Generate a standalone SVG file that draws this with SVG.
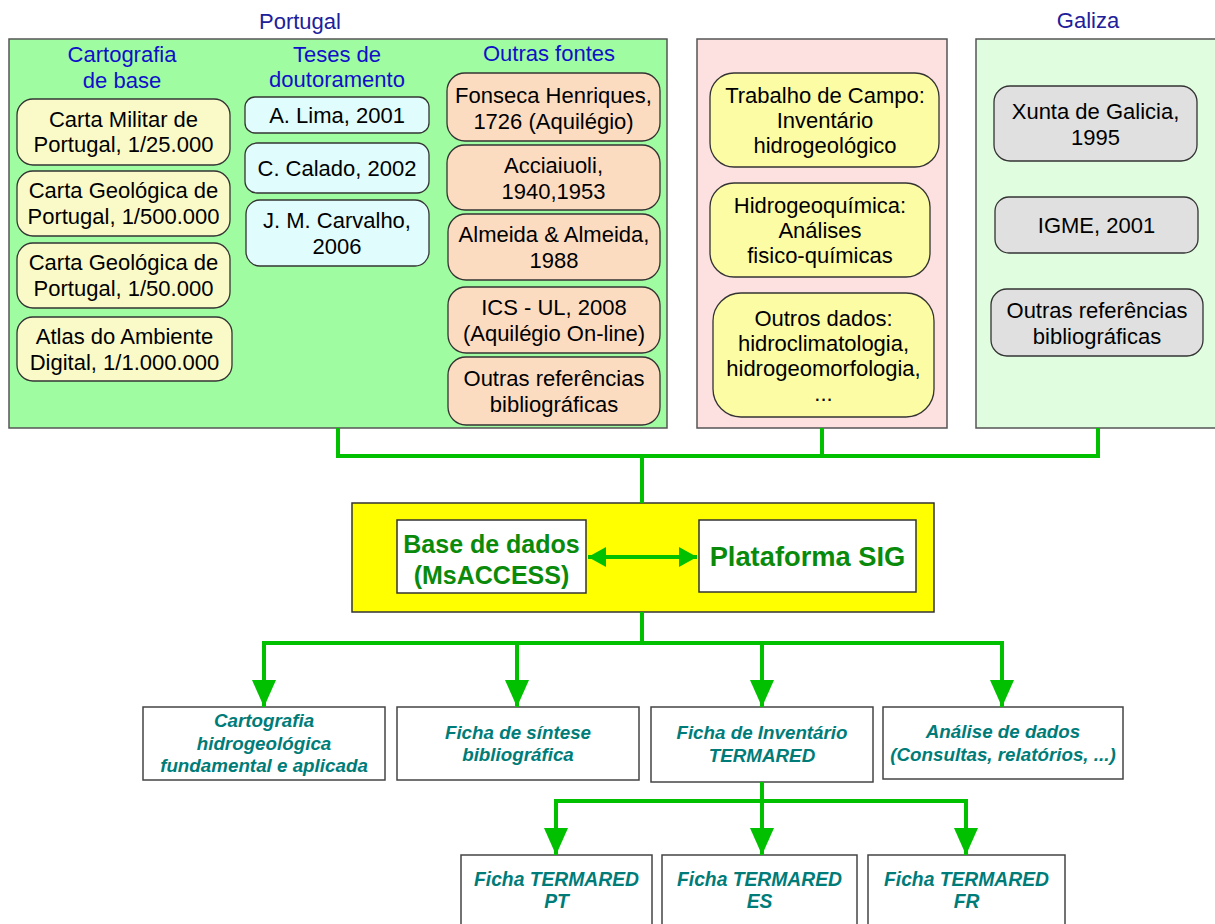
<svg xmlns="http://www.w3.org/2000/svg" width="1215" height="924" viewBox="0 0 1215 924">
  <defs>
    <marker id="arrowDown" markerUnits="userSpaceOnUse" viewBox="0 0 27 24" refX="27" refY="12" markerWidth="27" markerHeight="24" orient="auto">
      <path d="M0,0 L27,12 L0,24 z" fill="#00c000"/>
    </marker>
    <marker id="arrowSmall" markerUnits="userSpaceOnUse" viewBox="0 0 18 20" refX="18" refY="10" markerWidth="18" markerHeight="20" orient="auto-start-reverse">
      <path d="M0,0 L18,10 L0,20 z" fill="#00c000"/>
    </marker>
  </defs>
  <style>
    text { font-family: "Liberation Sans", Arial, sans-serif; text-anchor: middle; }
    .title { font-size: 22px; fill: #20209a; }
    .head { font-size: 22px; fill: #1010c8; }
    .src { font-size: 22px; fill: #000; }
    .panel { stroke: #555; stroke-width: 1.5; }
    .box { stroke: #333; stroke-width: 1.3; }
    .y1 { fill: #fafac8; }
    .cy { fill: #e0fcfc; }
    .or { fill: #fcdcc0; }
    .y2 { fill: #fcfca4; }
    .gr { fill: #e0e0e0; }
    .core { font-size: 25px; font-weight: bold; fill: #0a8a0a; }
    .out { fill: #fff; stroke: #444; stroke-width: 1.5; }
    .outt { font-size: 18.8px; font-weight: bold; font-style: italic; fill: #007c78; }
    .link { fill: none; stroke: #00c000; stroke-width: 4; }
  </style>

  <!-- panels -->
  <g id="panel-portugal">
    <text class="title" x="300" y="29">Portugal</text>
    <rect class="panel" x="9" y="39" width="658" height="389" fill="#a0fca0"/>
    <text class="head" x="122" y="62">Cartografia</text>
    <text class="head" x="122" y="88">de base</text>
    <text class="head" x="337" y="62">Teses de</text>
    <text class="head" x="337" y="87">doutoramento</text>
    <text class="head" x="549" y="61">Outras fontes</text>
  </g>
  <rect id="panel-campo" class="panel" x="697" y="39" width="250" height="389" fill="#fde0e0"/>
  <g id="panel-galiza">
    <text class="title" x="1088" y="28">Galiza</text>
    <rect class="panel" x="976" y="39" width="260" height="389" fill="#e0fde0"/>
  </g>

  <!-- Cartografia de base -->
  <g id="carta-militar"><rect class="box y1" x="17" y="99" width="213" height="66" rx="16"/>
    <text class="src" x="123.5" y="127">Carta Militar de</text><text class="src" x="123.5" y="152">Portugal, 1/25.000</text></g>
  <g id="carta-geo-500"><rect class="box y1" x="17" y="171" width="213" height="65" rx="16"/>
    <text class="src" x="123.5" y="198">Carta Geológica de</text><text class="src" x="123.5" y="224">Portugal, 1/500.000</text></g>
  <g id="carta-geo-50"><rect class="box y1" x="17" y="243" width="213" height="65" rx="16"/>
    <text class="src" x="123.5" y="270">Carta Geológica de</text><text class="src" x="123.5" y="296">Portugal, 1/50.000</text></g>
  <g id="atlas"><rect class="box y1" x="17" y="317" width="215" height="64" rx="16"/>
    <text class="src" x="124.5" y="344">Atlas do Ambiente</text><text class="src" x="124.5" y="370">Digital, 1/1.000.000</text></g>

  <!-- Teses de doutoramento -->
  <g id="lima"><rect class="box cy" x="245" y="97" width="184" height="36" rx="10"/>
    <text class="src" x="337" y="123">A. Lima, 2001</text></g>
  <g id="calado"><rect class="box cy" x="245" y="143" width="184" height="50" rx="12"/>
    <text class="src" x="337" y="176">C. Calado, 2002</text></g>
  <g id="carvalho"><rect class="box cy" x="246" y="200" width="183" height="66" rx="14"/>
    <text class="src" x="337" y="228">J. M. Carvalho,</text><text class="src" x="337" y="254">2006</text></g>

  <!-- Outras fontes -->
  <g id="fonseca"><rect class="box or" x="447" y="73" width="213" height="68" rx="18"/>
    <text class="src" x="553.5" y="103">Fonseca Henriques,</text><text class="src" x="553.5" y="129">1726 (Aquilégio)</text></g>
  <g id="acciaiuoli"><rect class="box or" x="447" y="145" width="213" height="65" rx="18"/>
    <text class="src" x="553.5" y="173">Acciaiuoli,</text><text class="src" x="553.5" y="199">1940,1953</text></g>
  <g id="almeida"><rect class="box or" x="448" y="214" width="212" height="66" rx="18"/>
    <text class="src" x="554" y="242">Almeida &amp; Almeida,</text><text class="src" x="554" y="268">1988</text></g>
  <g id="ics-ul"><rect class="box or" x="448" y="287" width="212" height="66" rx="18"/>
    <text class="src" x="554" y="315">ICS - UL, 2008</text><text class="src" x="554" y="341">(Aquilégio On-line)</text></g>
  <g id="outras-pt"><rect class="box or" x="448" y="357" width="212" height="68" rx="18"/>
    <text class="src" x="554" y="386">Outras referências</text><text class="src" x="554" y="412">bibliográficas</text></g>

  <!-- Trabalho de campo -->
  <g id="trabalho-campo"><rect class="box y2" x="710" y="73" width="229" height="94" rx="24"/>
    <text class="src" x="825" y="103">Trabalho de Campo:</text><text class="src" x="825" y="128">Inventário</text><text class="src" x="825" y="153">hidrogeológico</text></g>
  <g id="hidrogeoquimica"><rect class="box y2" x="710" y="183" width="220" height="94" rx="24"/>
    <text class="src" x="820" y="213">Hidrogeoquímica:</text><text class="src" x="820" y="238">Análises</text><text class="src" x="820" y="263">fisico-químicas</text></g>
  <g id="outros-dados"><rect class="box y2" x="713" y="293" width="221" height="124" rx="28"/>
    <text class="src" x="823.5" y="325.5">Outros dados:</text><text class="src" x="823.5" y="350.5">hidroclimatologia,</text><text class="src" x="823.5" y="375.5">hidrogeomorfologia,</text><text class="src" x="823.5" y="400.5">...</text></g>

  <!-- Galiza -->
  <g id="xunta"><rect class="box gr" x="994" y="86" width="203" height="75" rx="16"/>
    <text class="src" x="1095.5" y="118.5">Xunta de Galicia,</text><text class="src" x="1095.5" y="144.5">1995</text></g>
  <g id="igme"><rect class="box gr" x="995" y="197" width="203" height="56" rx="14"/>
    <text class="src" x="1096.5" y="233">IGME, 2001</text></g>
  <g id="outras-gz"><rect class="box gr" x="991" y="289" width="212" height="67" rx="16"/>
    <text class="src" x="1097" y="317.5">Outras referências</text><text class="src" x="1097" y="343.5">bibliográficas</text></g>

  <!-- core system -->
  <g id="sistema">
    <rect x="352" y="503" width="582" height="109" fill="#ffff00" stroke="#333" stroke-width="1.5"/>
  </g>
  <g id="base-dados"><rect x="397" y="520" width="189" height="73" fill="#fff" stroke="#333" stroke-width="1.5"/>
    <text class="core" x="491.5" y="553">Base de dados</text><text class="core" x="491.5" y="584">(MsACCESS)</text></g>
  <g id="plataforma-sig"><rect x="699" y="520" width="217" height="72" fill="#fff" stroke="#333" stroke-width="1.5"/>
    <text class="core" x="807.5" y="566" style="font-size:27.3px">Plataforma SIG</text></g>

  <!-- outputs -->
  <g id="out-cartografia"><rect class="out" x="143" y="707" width="242" height="73"/>
    <text class="outt" x="264" y="727">Cartografia</text><text class="outt" x="264" y="749.5">hidrogeológica</text><text class="outt" x="264" y="772">fundamental e aplicada</text></g>
  <g id="out-sintese"><rect class="out" x="397" y="707" width="242" height="73"/>
    <text class="outt" x="518" y="738.5">Ficha de síntese</text><text class="outt" x="518" y="761">bibliográfica</text></g>
  <g id="out-inventario"><rect class="out" x="651" y="707" width="222" height="75"/>
    <text class="outt" x="762" y="739">Ficha de Inventário</text><text class="outt" x="762" y="762">TERMARED</text></g>
  <g id="out-analise"><rect class="out" x="883" y="707" width="240" height="72"/>
    <text class="outt" x="1003" y="738">Análise de dados</text><text class="outt" x="1003" y="761">(Consultas, relatórios, ...)</text></g>

  <g id="ficha-pt"><rect class="out" x="461" y="855" width="191" height="80"/>
    <text class="outt" x="556.5" y="886" style="font-size:19.3px">Ficha TERMARED</text><text class="outt" x="556.5" y="908" style="font-size:19.3px">PT</text></g>
  <g id="ficha-es"><rect class="out" x="662" y="855" width="195" height="80"/>
    <text class="outt" x="759.5" y="886" style="font-size:19.3px">Ficha TERMARED</text><text class="outt" x="759.5" y="908" style="font-size:19.3px">ES</text></g>
  <g id="ficha-fr"><rect class="out" x="868" y="855" width="197" height="80"/>
    <text class="outt" x="966.5" y="886" style="font-size:19.3px">Ficha TERMARED</text><text class="outt" x="966.5" y="908" style="font-size:19.3px">FR</text></g>

  <!-- connectors -->
  <g id="connectors">
    <path class="link" d="M338,428 V456 H1098 V428 M822,428 V456 M642,456 V503"/>
    <line class="link" x1="588" y1="557" x2="697" y2="557" stroke-width="3.5" marker-start="url(#arrowSmall)" marker-end="url(#arrowSmall)"/>
    <path class="link" d="M642,612 V643 M264,643 H1002"/>
    <path class="link" d="M264,641 V707" marker-end="url(#arrowDown)"/>
    <path class="link" d="M517,643 V707" marker-end="url(#arrowDown)"/>
    <path class="link" d="M762,643 V707" marker-end="url(#arrowDown)"/>
    <path class="link" d="M1002,641 V707" marker-end="url(#arrowDown)"/>
    <path class="link" d="M762,782 V801 M556,801 H966"/>
    <path class="link" d="M556,799 V855" marker-end="url(#arrowDown)"/>
    <path class="link" d="M762,801 V855" marker-end="url(#arrowDown)"/>
    <path class="link" d="M966,799 V855" marker-end="url(#arrowDown)"/>
  </g>
</svg>
